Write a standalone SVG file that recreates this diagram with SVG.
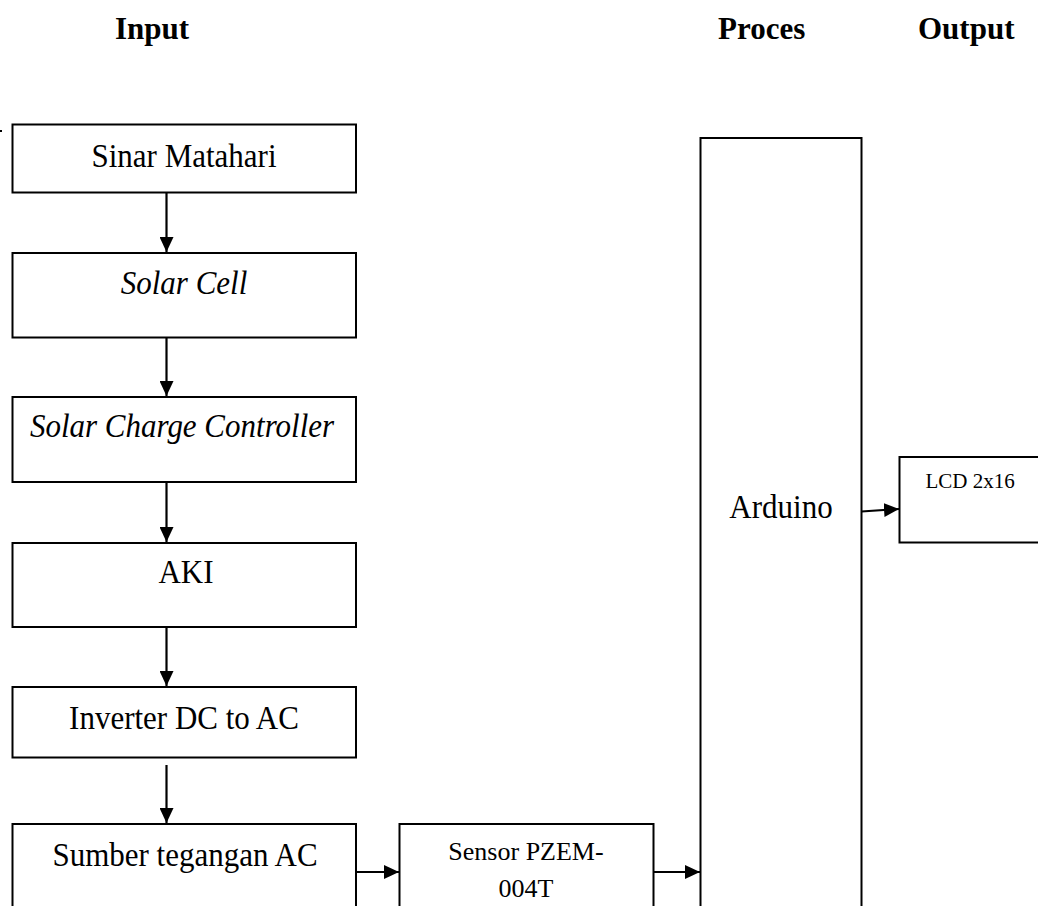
<svg xmlns="http://www.w3.org/2000/svg" width="1038" height="906" viewBox="0 0 1038 906">
<style>
.box{fill:#fff;stroke:#000;stroke-width:2}
.t{font-family:"Liberation Serif","Times New Roman",serif;font-size:31px;fill:#000;text-anchor:middle}
.i{font-style:italic}
.s{font-size:26px}
.l{font-size:21px}
.h{font-family:"Liberation Serif","Times New Roman",serif;font-size:31px;font-weight:bold;fill:#000}
.c{stroke:#000;stroke-width:2.2;fill:none;marker-end:url(#ah)}
</style>
<defs>
<marker id="ah" markerUnits="userSpaceOnUse" markerWidth="16" markerHeight="14" refX="15" refY="7" orient="auto">
<path d="M0,0 L15,7 L0,14 Z" fill="#000"/>
</marker>
</defs>
<rect x="0" y="130" width="2" height="2" fill="#000"/>
<g id="headers">
<text class="h" x="115" y="39">Input</text>
<text class="h" x="718" y="39">Proces</text>
<text class="h" x="918" y="39">Output</text>
</g>
<g id="sinar"><rect class="box" x="12.5" y="124.5" width="343.5" height="68"/><text class="t" transform="translate(184,167) scale(1,1.1)">Sinar Matahari</text></g>
<g id="solarcell"><rect class="box" x="12.5" y="253" width="343.5" height="84.5"/><text class="t i" transform="translate(184,294) scale(1,1.1)">Solar Cell</text></g>
<g id="scc"><rect class="box" x="12.5" y="397" width="343.5" height="85"/><text class="t i" transform="translate(182,437) scale(1,1.1)">Solar Charge Controller</text></g>
<g id="aki"><rect class="box" x="12.5" y="543" width="343.5" height="84"/><text class="t" transform="translate(186,583) scale(1,1.1)">AKI</text></g>
<g id="inverter"><rect class="box" x="12.5" y="687" width="343.5" height="70.5"/><text class="t" transform="translate(184,729) scale(1,1.1)">Inverter DC to AC</text></g>
<g id="sumber"><rect class="box" x="12.5" y="824" width="343.5" height="100"/><text class="t" transform="translate(185,866) scale(1,1.1)">Sumber tegangan AC</text></g>
<g id="sensor"><rect class="box" x="399.5" y="824" width="254" height="100"/><text class="t s" x="526" y="860">Sensor PZEM-</text><text class="t s" x="526" y="897">004T</text></g>
<g id="arduino"><rect class="box" x="700.5" y="138" width="161" height="800"/><text class="t" transform="translate(781,518) scale(1,1.1)">Arduino</text></g>
<g id="lcd"><rect class="box" x="899.5" y="457" width="160" height="85.5"/><text class="t l" x="970" y="488">LCD 2x16</text></g>
<g id="connectors">
<line class="c" x1="166.5" y1="193" x2="166.5" y2="252"/>
<line class="c" x1="166.5" y1="338" x2="166.5" y2="396"/>
<line class="c" x1="166.5" y1="482" x2="166.5" y2="542"/>
<line class="c" x1="166.5" y1="627" x2="166.5" y2="686"/>
<line class="c" x1="166.5" y1="765" x2="166.5" y2="823"/>
<line class="c" x1="356" y1="872" x2="399" y2="872"/>
<line class="c" x1="653.5" y1="872" x2="700" y2="872"/>
<line class="c" x1="861.5" y1="511.5" x2="899" y2="509"/>
</g>
</svg>
